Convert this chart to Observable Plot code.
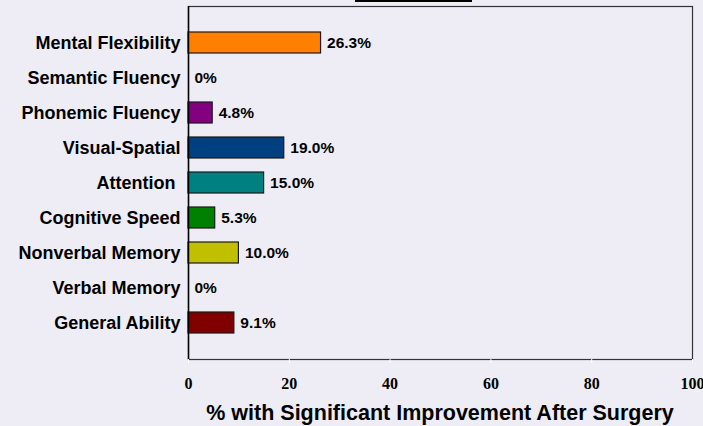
<!DOCTYPE html>
<html>
<head>
<meta charset="utf-8">
<script src="https://cdn.jsdelivr.net/npm/d3@7"></script>
<script src="https://cdn.jsdelivr.net/npm/@observablehq/plot@0.6"></script>
<style>
  html, body { margin: 0; padding: 0; background: #eeedf6; }
  #wrap { position: relative; width: 703px; height: 426px; overflow: hidden; background: #eeedf6; }
  #topbar { position: absolute; left: 355px; top: 0; width: 117px; height: 2px; background: #000; }
  #xlabel { position: absolute; left: 140px; width: 600px; top: 401px; text-align: center; line-height: 1;
            font: bold 21.5px "Liberation Sans", Arial, sans-serif; color: #000; white-space: nowrap; }
</style>
</head>
<body>
<div id="wrap">
  <div id="chart"></div>
  <div id="topbar"></div>
  <div id="xlabel">% with Significant Improvement After Surgery</div>
</div>
<script>
const categories = ["Mental Flexibility","Semantic Fluency","Phonemic Fluency","Visual-Spatial","Attention","Cognitive Speed","Nonverbal Memory","Verbal Memory","General Ability"];
const values = [26.3, 0, 4.8, 19.0, 15.0, 5.3, 10.0, 0, 9.1];
const valueLabels = ["26.3%","0%","4.8%","19.0%","15.0%","5.3%","10.0%","0%","9.1%"];
const colors = ["#ff8000","#ff8000","#800080","#004080","#008080","#008000","#c0c000","#c0c000","#800000"];
const xTicks = [0, 20, 40, 60, 80, 100];

const data = categories.map((c, i) => ({cat: c, value: values[i], label: valueLabels[i], color: colors[i]}));

const chart = Plot.plot({
  width: 703,
  height: 426,
  marginLeft: 188,
  marginRight: 11,
  marginTop: 6,
  marginBottom: 67,
  style: {background: "#eeedf6", overflow: "visible"},
  x: {domain: [0, 100], ticks: xTicks},
  y: {domain: categories, paddingInner: 0.39, paddingOuter: 0.195, insetTop: 19, insetBottom: 18, align: 0.5},
  marks: [
    Plot.frame({stroke: "#333", strokeWidth: 1.2}),
    Plot.barX(data.filter(d => d.value > 0), {x: "value", y: "cat", fill: "color", stroke: "#1a1a1a", strokeWidth: 1.2}),
    Plot.text(data, {x: "value", y: "cat", text: "label", textAnchor: "start", dx: 6,
      fontFamily: "Liberation Sans, Arial, sans-serif", fontWeight: "bold", fontSize: 15.5, fill: "#000"}),
    Plot.ruleX([0], {stroke: "#000", strokeWidth: 1.5}),
    Plot.axisX({ticks: xTicks, tickSize: 4, tickPadding: 14, stroke: "white", fill: "#000", label: null,
      fontFamily: "Liberation Serif, Times New Roman, serif", fontWeight: "bold", fontSize: 16}),
    Plot.axisY({tickSize: 0, tickPadding: 8, label: null,
      tickFormat: d => d === "Attention" ? "Attention\u00a0" : d,
      fontFamily: "Liberation Sans, Arial, sans-serif", fontWeight: "bold", fontSize: 18, fill: "#000"})
  ]
});
document.getElementById("chart").appendChild(chart);
</script>
</body>
</html>
